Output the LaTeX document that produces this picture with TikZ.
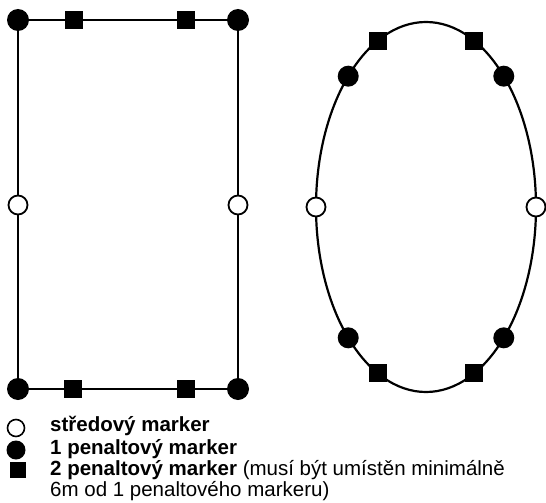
\documentclass[tikz,border=0pt]{standalone}
\usepackage{fontspec}
\setmainfont{Liberation Sans}
\usepackage{tikz}
\usetikzlibrary{positioning}

\begin{document}
\begin{tikzpicture}[x=1pt, y=-1pt,
    line/.style={line width=2.2pt},
    penone/.style={circle, fill=black, inner sep=0pt, minimum size=22pt},
    pentwo/.style={rectangle, fill=black, inner sep=0pt, minimum size=18pt},
    center/.style={circle, draw, fill=white, line width=1.8pt, inner sep=0pt, minimum size=19pt},
    lgtext/.style={anchor=base west, inner sep=0pt, font=\fontsize{20.5}{22}\selectfont}
]
\useasboundingbox (0,0) rectangle (546,503);
% rectangle field
\node[penone] (tl) at (18,20) {};
\node[penone] (tr) at (238,20) {};
\node[penone] (bl) at (18,389) {};
\node[penone] (br) at (238,389) {};
\node[pentwo] (tsl) at (74,20) {};
\node[pentwo] (tsr) at (186,20) {};
\node[pentwo] (bsl) at (73,389) {};
\node[pentwo] (bsr) at (186,389) {};
\node[center] (ml) at (18,205) {};
\node[center] (mr) at (238,205) {};
\draw[line] (tl) -- (tsl) -- (tsr) -- (tr);
\draw[line] (bl) -- (bsl) -- (bsr) -- (br);
\draw[line] (tl) -- (ml) -- (bl);
\draw[line] (tr) -- (mr) -- (br);
% oval field (y axis points down, so top angles are negative)
\coordinate (ec) at (426,207);
\draw[line] (ec) ellipse [x radius=110, y radius=185];
\node[pentwo] (ets1) at ([shift={(-116:110 and 185)}]ec) {};
\node[pentwo] (ets2) at ([shift={(-64:110 and 185)}]ec) {};
\node[penone, minimum size=21pt] (etc1) at ([shift={(-135:110 and 185)}]ec) {};
\node[penone, minimum size=21pt] (etc2) at ([shift={(-45:110 and 185)}]ec) {};
\node[center] (eml) at ([shift={(180:110 and 185)}]ec) {};
\node[center] (emr) at ([shift={(0:110 and 185)}]ec) {};
\node[penone, minimum size=21pt] (ebc1) at ([shift={(135:110 and 185)}]ec) {};
\node[penone, minimum size=21pt] (ebc2) at ([shift={(45:110 and 185)}]ec) {};
\node[pentwo] (ebs1) at ([shift={(116:110 and 185)}]ec) {};
\node[pentwo] (ebs2) at ([shift={(64:110 and 185)}]ec) {};
% legend
\node[center, minimum size=17pt, line width=1.6pt] (lg1) at (16,428) {};
\node[penone, minimum size=19pt] (lg2) at (16,450) {};
\node[pentwo, minimum size=16pt] (lg3) at (18,470) {};
\node[lgtext] (t1) at (50,431) {\textbf{středový marker}};
\node[lgtext] (t2) at (50,454) {\textbf{1 penaltový marker}};
\node[lgtext] (t3) at (50,475) {\textbf{2 penaltový marker} (musí být umístěn minimálně};
\node[lgtext] (t4) at (50,496) {6m od 1 penaltového markeru)};
\end{tikzpicture}
\end{document}
